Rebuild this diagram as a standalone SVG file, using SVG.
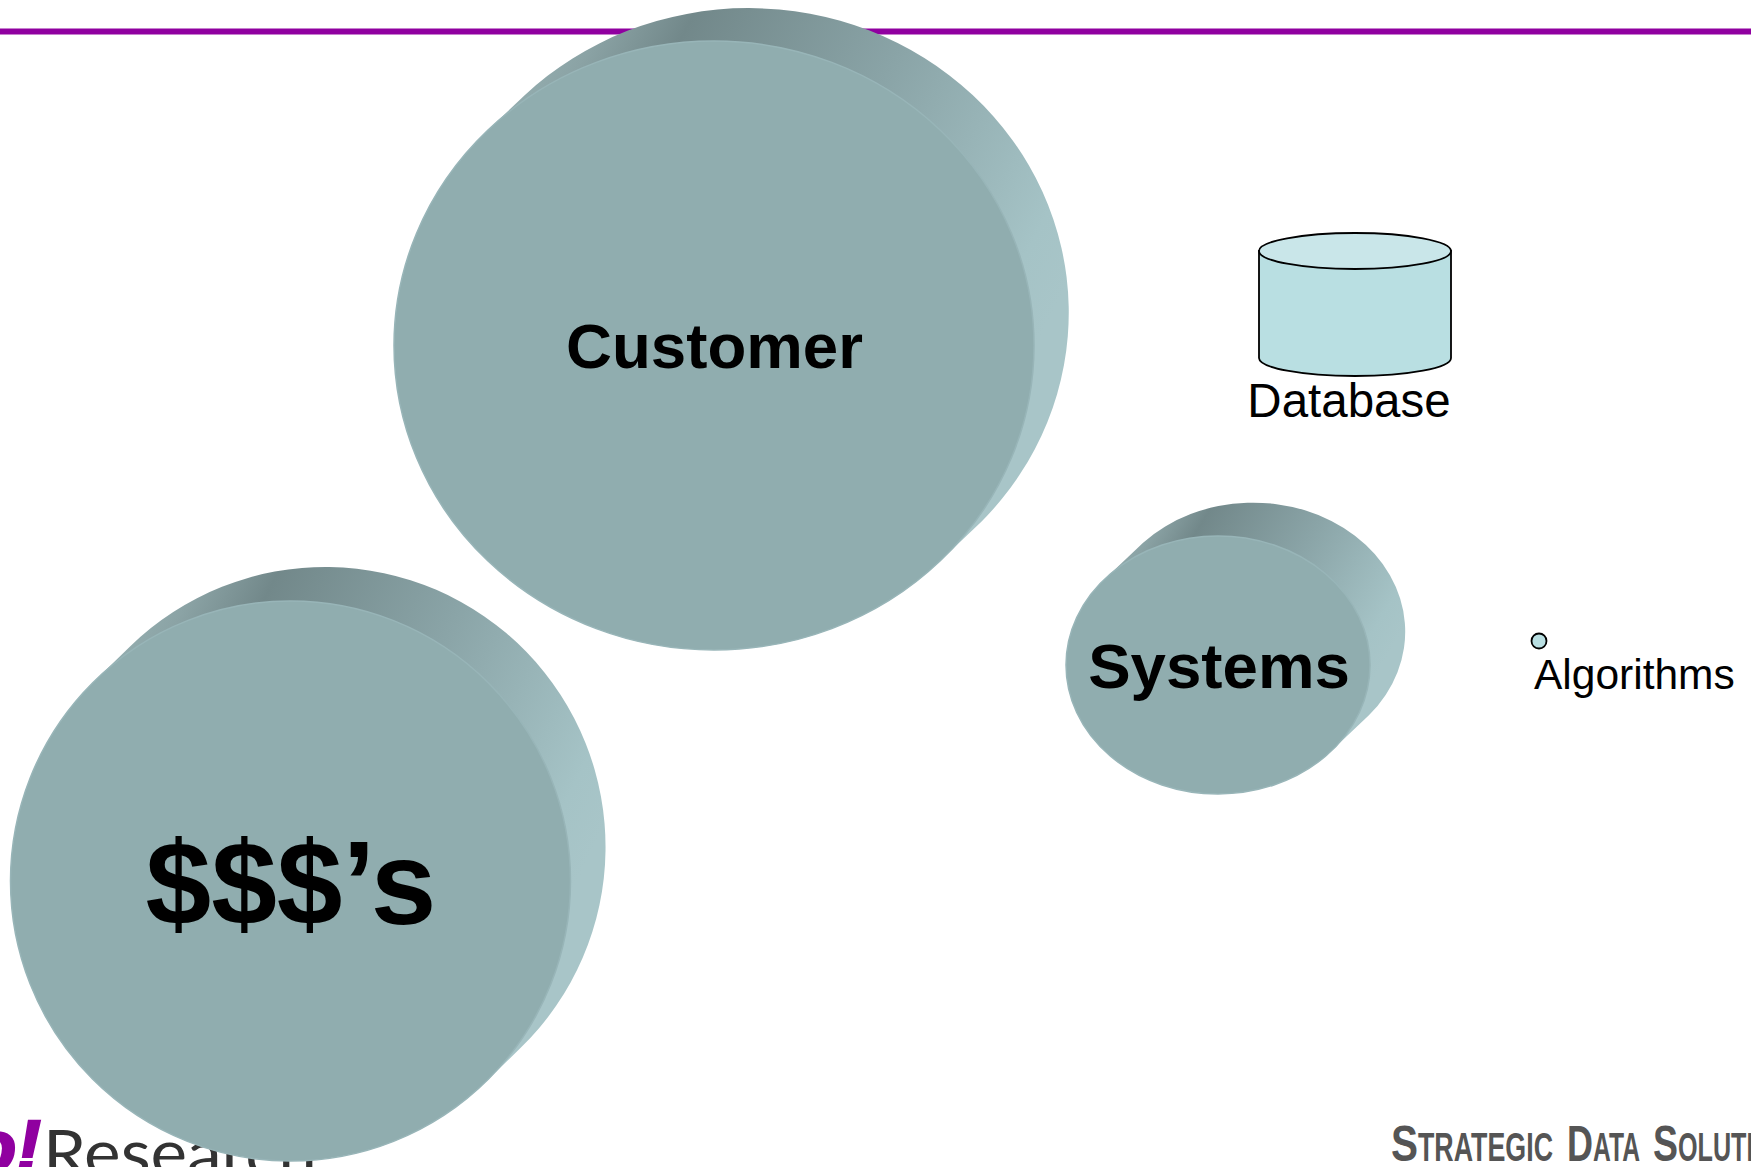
<svg xmlns="http://www.w3.org/2000/svg" width="1751" height="1167" viewBox="0 0 1751 1167">
<style>
text{font-family:"Liberation Sans",Arial,sans-serif;fill:#000}
.b{font-weight:700;text-anchor:middle}
.side{fill:url(#ext)}
.face{fill:#90adaf;stroke:#98b5b8;stroke-width:1.5}
.db{stroke:#000;stroke-width:1.8}
.sds{font-weight:700;fill:#555}
</style>
<defs>
<linearGradient id="ext" x1="0" y1="0" x2="1" y2="0.5">
<stop offset="0" stop-color="#a0bcbe"/><stop offset="0.17" stop-color="#8ba3a5"/><stop offset="0.29" stop-color="#72888a"/><stop offset="0.6" stop-color="#8aa4a7"/><stop offset="0.92" stop-color="#a5c3c6"/><stop offset="1" stop-color="#a8c5c8"/>
</linearGradient>
</defs>
<rect width="1751" height="1167" fill="#fff"/>
<rect id="top-rule" x="0" y="28.5" width="1751" height="6" fill="#9000a0"/>
<g id="logo-research">
<text x="-29" y="1172" font-size="74" font-weight="700" font-style="italic" stroke="#9000a0" stroke-width="2.5" style="fill:#9000a0">o!</text>
<text x="43" y="1176" font-size="64" textLength="274" lengthAdjust="spacingAndGlyphs" style="font-family:Lato,'Liberation Sans',sans-serif;fill:#333">Research</text>
</g>
<g id="logo-sds">
<text class="sds" y="1161" font-size="50" x="1391" textLength="27" lengthAdjust="spacingAndGlyphs">S</text>
<text class="sds" y="1161" font-size="40" x="1418" textLength="135" lengthAdjust="spacingAndGlyphs">TRATEGIC</text>
<text class="sds" y="1161" font-size="50" x="1567" textLength="26" lengthAdjust="spacingAndGlyphs">D</text>
<text class="sds" y="1161" font-size="40" x="1593" textLength="47" lengthAdjust="spacingAndGlyphs">ATA</text>
<text class="sds" y="1161" font-size="50" x="1653" textLength="25" lengthAdjust="spacingAndGlyphs">S</text>
<text class="sds" y="1161" font-size="40" x="1678" textLength="130" lengthAdjust="spacingAndGlyphs">OLUTIONS</text>
</g>
<g id="customer">
<path class="side" d="M485.4 132.5L524.4 95.5A320 304.5 0 0 1 981.6 521.5L942.6 558.5Z"/>
<ellipse class="face" cx="714" cy="345.5" rx="320" ry="304.5"/>
<text class="b" x="714.5" y="368" font-size="63.6">Customer</text>
</g>
<g id="dollars">
<path class="side" d="M95.3 680.2L130.3 646.2A280 280 0 0 1 520.7 1047.8L485.7 1081.8Z"/>
<ellipse class="face" cx="290.5" cy="881" rx="280" ry="280"/>
<text class="b" x="291" y="924" font-size="118">$$$’s</text>
</g>
<g id="systems">
<path class="side" d="M1105.1 578.7L1143.1 542.7A152 129 0 0 1 1368.9 715.3L1330.9 751.3Z"/>
<ellipse class="face" cx="1218" cy="665" rx="152" ry="129"/>
<text class="b" x="1219" y="688" font-size="63.6">Systems</text>
</g>
<g id="database">
<path class="db" fill="#b9dfe2" d="M1259 251V358A96 18 0 0 0 1451 358V251Z"/>
<ellipse class="db" fill="#c9e6e9" cx="1355" cy="251" rx="96" ry="18"/>
<text x="1349" y="417" font-size="47.5" text-anchor="middle">Database</text>
</g>
<g id="algorithms">
<circle class="db" fill="#b9dfe2" cx="1539" cy="641" r="7.5"/>
<text x="1534" y="689" font-size="42.5">Algorithms</text>
</g>
</svg>
